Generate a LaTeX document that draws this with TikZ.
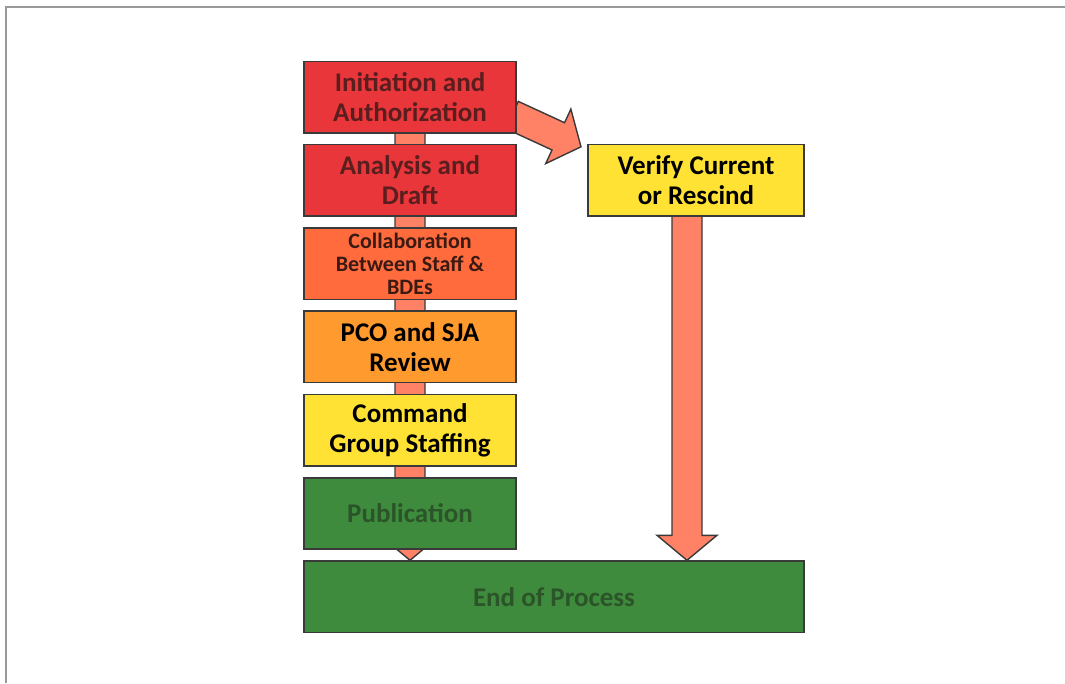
\documentclass[tikz,border=0pt]{standalone}
\usepackage{fontspec}
\setmainfont{Carlito}
\usetikzlibrary{positioning,calc,backgrounds}
\definecolor{StageRed}{HTML}{E8363A}
\definecolor{StageCoral}{HTML}{FF6B3D}
\definecolor{StageOrange}{HTML}{FF9A2E}
\definecolor{StageYellow}{HTML}{FFE234}
\definecolor{StageGreen}{HTML}{3F8B3D}
\definecolor{FlowSalmon}{HTML}{FF8266}
\definecolor{EdgeGray}{HTML}{3A3A3A}
\definecolor{RedInk}{HTML}{5A1E1E}
\definecolor{CoralInk}{HTML}{3A1A12}
\definecolor{GreenInk}{HTML}{2B5429}

% fat outlined arrow from #1 (tail) to #2 (tip)
\newcommand{\blockarrow}[2]{%
  \coordinate (neck) at ($(#2)!25pt!(#1)$);
  \draw[blockarr] ($(#1)!15pt!90:(#2)$) -- ($(neck)!15pt!90:(#2)$) -- ($(neck)!30pt!90:(#2)$)
    -- (#2) -- ($(neck)!30pt!-90:(#2)$) -- ($(neck)!15pt!-90:(#2)$) -- ($(#1)!15pt!-90:(#2)$) -- cycle;}

\begin{document}
\begin{tikzpicture}[x=1pt,y=1pt,node distance=10.3pt and 70pt,
  every node/.style={font=\bfseries\fontsize{27}{30}\selectfont,align=center,inner sep=2pt},
  stage/.style={draw=EdgeGray,line width=1.6pt,minimum width=212.4pt,minimum height=71.4pt},
  blockarr/.style={draw=EdgeGray,line width=1.4pt,fill=FlowSalmon,line join=miter}]
  \useasboundingbox (0,0) rectangle (1065,-683);
  \draw[gray!80,line width=1.5pt] (6,-683) -- (6,-7) -- (1065,-7);
  \node[stage,fill=StageRed,text=RedInk] (init) at (410,-97) {Initiation and\\Authorization};
  \node[stage,fill=StageRed,text=RedInk,below=of init] (draft) {Analysis and\\Draft};
  \node[stage,fill=StageCoral,text=CoralInk,font=\bfseries\fontsize{22}{23}\selectfont,below=of draft] (collab) {Collaboration\\Between Staff \&\\BDEs};
  \node[stage,fill=StageOrange,below=of collab] (review) {PCO and SJA\\Review};
  \node[stage,fill=StageYellow,below=of review] (staffing) {Command\\Group Staffing};
  \node[stage,fill=StageGreen,text=GreenInk,below=of staffing] (pub) {Publication};
  \node[stage,fill=StageGreen,text=GreenInk,minimum width=500.4pt,below right=10.3pt and 0pt of pub.south west] (end) {End of Process};
  \node[stage,fill=StageYellow,minimum width=216.4pt,right=70pt of draft] (verify) {Verify Current\\or Rescind};
  % arrows sit behind the boxes
  \coordinate (pubtip) at (init |- end.north);
  \coordinate (verifytail) at ([xshift=-9pt,yshift=5pt]verify.south);
  \coordinate (verifytip) at (verifytail |- end.north);
  \coordinate (sidetail) at ([xshift=-5pt,yshift=-18pt]init.east);
  \coordinate (sidetip) at ([xshift=-6pt,yshift=-3pt]verify.north west);
  \begin{scope}[on background layer]
    \foreach \x/\y in {init/pubtip,verifytail/verifytip,sidetail/sidetip}{\blockarrow{\x}{\y}}
  \end{scope}
\end{tikzpicture}
\end{document}
